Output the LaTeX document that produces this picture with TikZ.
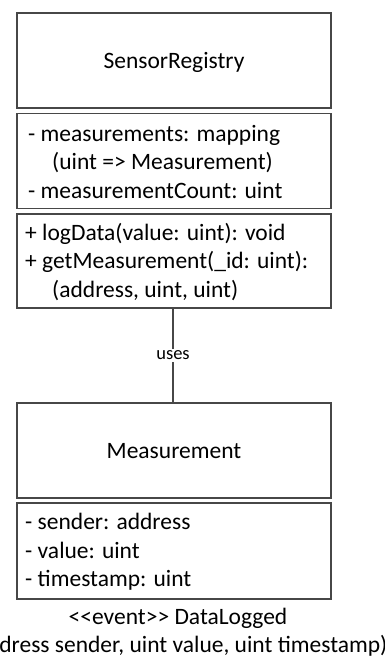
\documentclass[tikz,border=0pt]{standalone}
\usepackage{fontspec}
\setmainfont{Carlito}
\begin{document}
\begin{tikzpicture}[x=1pt,y=-1pt,
  box/.style={draw=black!72, line width=1.3pt, minimum width=314pt, inner sep=0pt, outer sep=0pt},
  txt/.style={anchor=west, align=left, inner sep=0pt, font=\fontsize{23.5}{28.5}\selectfont},
  ttl/.style={inner sep=0pt, font=\fontsize{23.5}{26}\selectfont},
  lbl/.style={fill=white, inner sep=2pt, font=\fontsize{18.5}{20}\selectfont},
  conn/.style={draw=black!72, line width=1.3pt}]
\useasboundingbox (0,0) rectangle (384,666);
\fill[white] (0,0) rectangle (384,666);
% SensorRegistry
\node[box, minimum height=95pt] (sr) at (174,60.5) {};
\node[ttl] (srt) at (174,62) {SensorRegistry};
\node[box, minimum height=95pt] (sra) at (174,161) {};
\node[txt] (srat) at (28,162) {- measurements: mapping\\\hspace*{24pt}(uint => Measurement)\\- measurementCount: uint};
\node[box, minimum height=94pt] (srm) at (174,261) {};
\node[txt] (srmt) at (25,262) {+ logData(value: uint): void\\+ getMeasurement(\_id: uint):\\\hspace*{27pt}(address, uint, uint)};
% Measurement
\node[box, minimum height=95pt] (m) at (174,450.5) {};
\node[ttl] (mt) at (174,451) {Measurement};
\node[box, minimum height=96pt] (ma) at (174,551) {};
\node[txt] (mat) at (25,552) {- sender: address\\- value: uint\\- timestamp: uint};
% connector
\draw[conn] (srm.south -| 173,0) -- node[lbl, pos=0.5] (uses) {uses} (m.north -| 173,0);
% event
\node[ttl] (ev) at (178,618) {{<}{<}event{>}{>} DataLogged};
\node[ttl] (evp) at (178,646) {(address sender, uint value, uint timestamp)};
\end{tikzpicture}
\end{document}
